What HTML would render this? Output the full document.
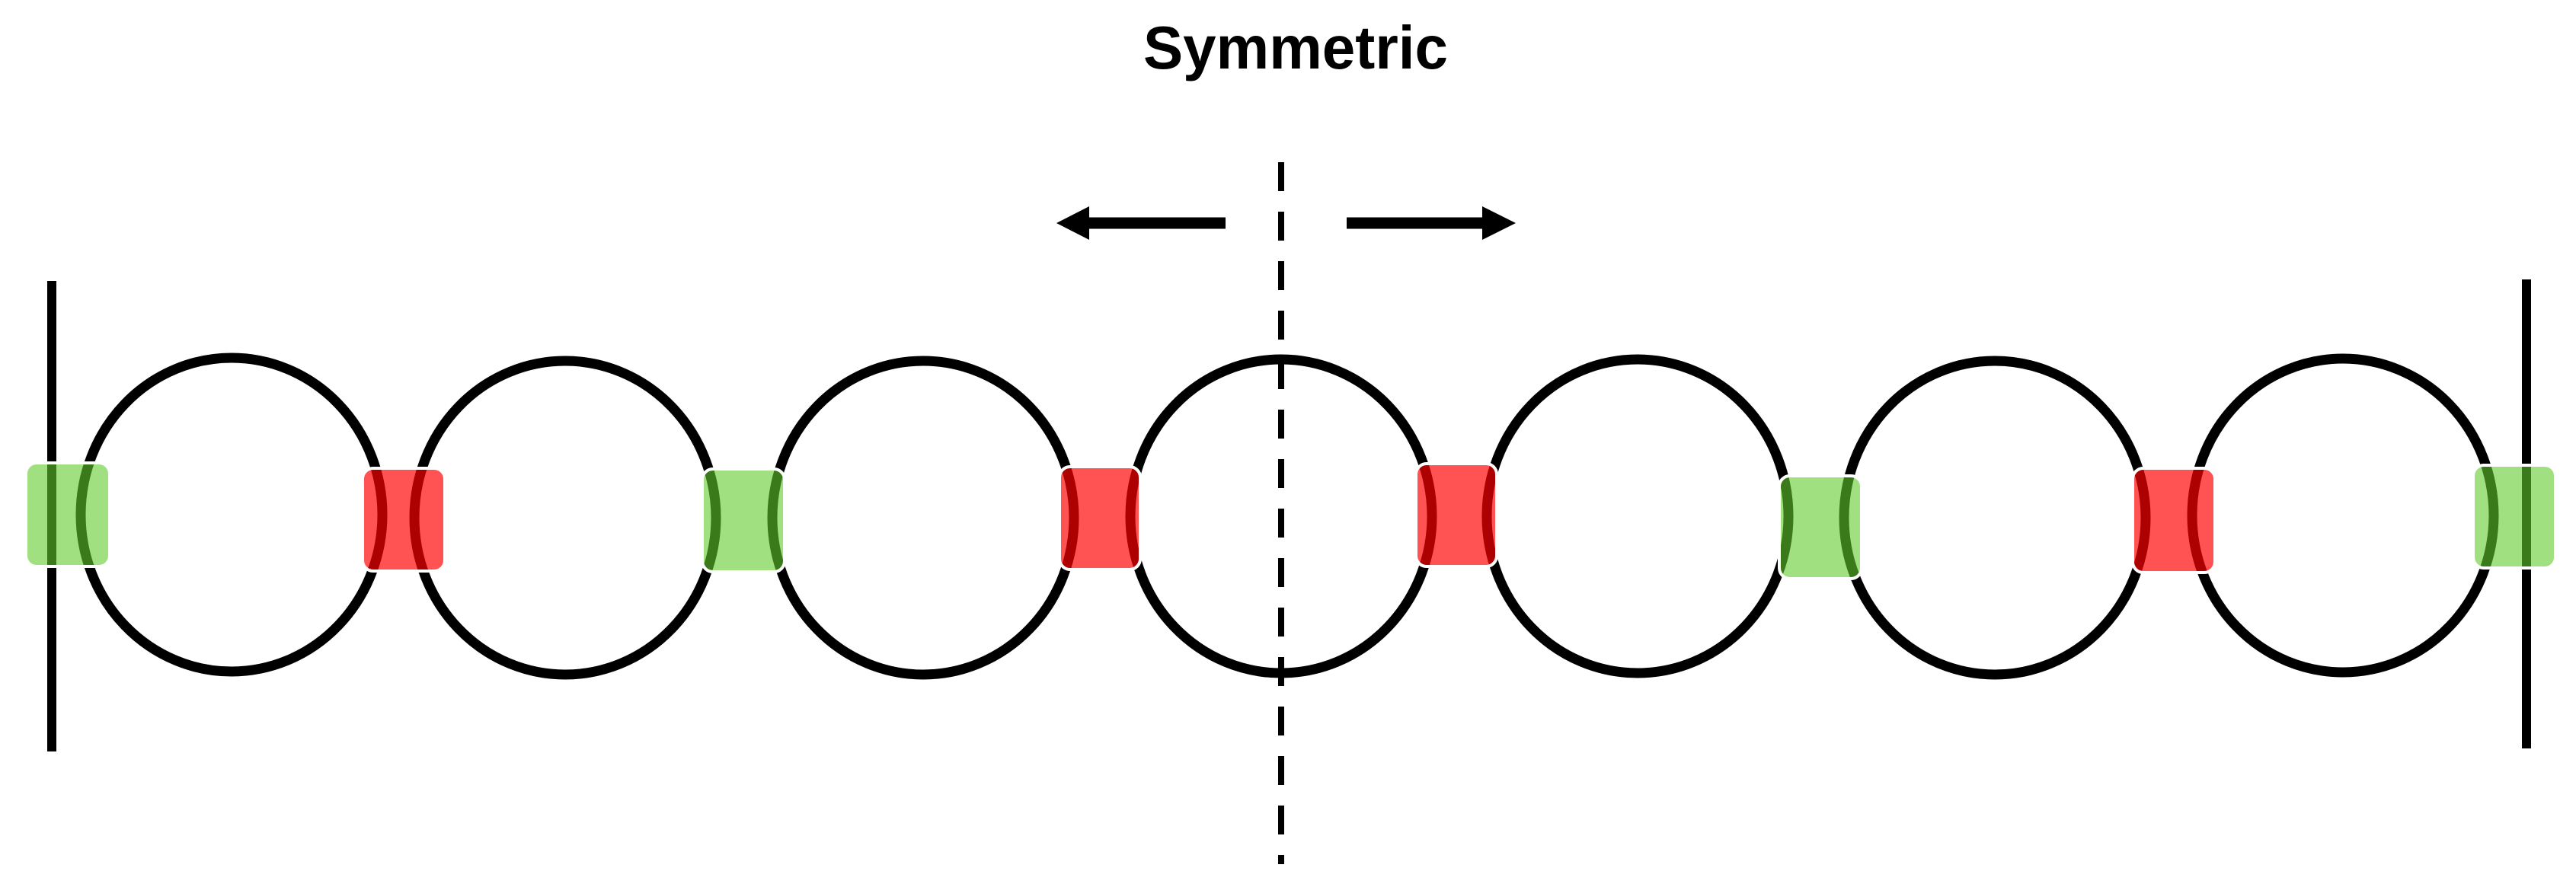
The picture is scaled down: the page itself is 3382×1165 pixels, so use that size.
<!DOCTYPE html>
<html><head><meta charset="utf-8"><style>html,body{margin:0;padding:0;background:#fff}svg{display:block}</style></head>
<body>
<svg width="3382" height="1165" viewBox="0 0 3382 1165" xmlns="http://www.w3.org/2000/svg">
<rect width="3382" height="1165" fill="#fff"/>
<text x="1701" y="90" font-family="Liberation Sans, sans-serif" font-size="80" font-weight="bold" text-anchor="middle" textLength="400" lengthAdjust="spacingAndGlyphs" fill="#000">Symmetric</text>
<!-- dashed axis -->
<line x1="1682" y1="213" x2="1682" y2="1135" stroke="#000" stroke-width="8" stroke-dasharray="38 27"/>
<!-- arrows -->
<line x1="1420" y1="293" x2="1609" y2="293" stroke="#000" stroke-width="15"/>
<polygon points="1387,293 1430,271 1430,315" fill="#000"/>
<line x1="1768" y1="293" x2="1955" y2="293" stroke="#000" stroke-width="15"/>
<polygon points="1990,293 1946,271 1946,315" fill="#000"/>
<!-- side lines -->
<line x1="68" y1="369" x2="68" y2="987" stroke="#000" stroke-width="12"/>
<line x1="3317" y1="367" x2="3317" y2="983" stroke="#000" stroke-width="12"/>
<!-- circles -->
<g fill="none" stroke="#000" stroke-width="13">
<ellipse cx="304" cy="676" rx="198" ry="206"/>
<ellipse cx="742" cy="680" rx="198" ry="206"/>
<ellipse cx="1212" cy="680" rx="198" ry="206"/>
<ellipse cx="1682" cy="678" rx="198" ry="206"/>
<ellipse cx="2150" cy="678" rx="198" ry="206"/>
<ellipse cx="2619" cy="680" rx="198" ry="206"/>
<ellipse cx="3076" cy="677" rx="198" ry="206"/>
</g>
<!-- junction boxes -->
<g stroke="#fff" stroke-width="4">
<rect x="34" y="608" width="110" height="136" rx="14" fill="rgb(97,203,43)" fill-opacity="0.6"/>
<rect x="476" y="615" width="108" height="135" rx="14" fill="rgb(255,0,0)" fill-opacity="0.68"/>
<rect x="922" y="616" width="108" height="135" rx="14" fill="rgb(97,203,43)" fill-opacity="0.6"/>
<rect x="1391" y="613" width="106" height="135" rx="14" fill="rgb(255,0,0)" fill-opacity="0.68"/>
<rect x="1859" y="609" width="106" height="135" rx="14" fill="rgb(255,0,0)" fill-opacity="0.68"/>
<rect x="2336" y="625" width="108" height="135" rx="14" fill="rgb(97,203,43)" fill-opacity="0.6"/>
<rect x="2800" y="615" width="108" height="137" rx="14" fill="rgb(255,0,0)" fill-opacity="0.68"/>
<rect x="3247" y="611" width="108" height="135" rx="14" fill="rgb(97,203,43)" fill-opacity="0.6"/>
</g>
</svg>
</body></html>
